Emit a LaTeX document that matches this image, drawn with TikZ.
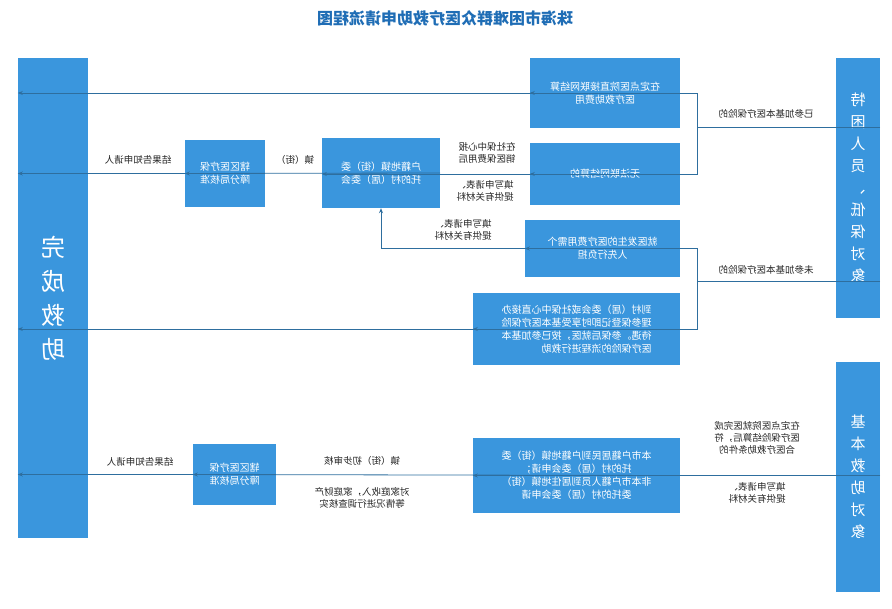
\documentclass[tikz,border=0pt]{standalone}
\usepackage{fontspec}
\setmainfont{Noto Sans CJK SC}
\usetikzlibrary{arrows.meta}
\definecolor{bx}{HTML}{3A96DD}
\definecolor{ln}{HTML}{2E6E9E}
\definecolor{tt}{HTML}{1F6DB5}
\begin{document}
\begin{tikzpicture}[x=1pt,y=-1pt,
  every node/.append style={xscale=-1},
  box/.style={fill=bx,text=white,inner sep=2pt,font=\fontsize{10}{13}\selectfont,align=center},
  lab/.style={text=black!85,font=\fontsize{9.5}{12}\selectfont,align=center,inner sep=1pt},
  ar/.style={draw=ln,line width=0.8pt,-{Stealth[length=5pt,width=4pt]}},
  pl/.style={draw=ln,line width=0.8pt}]
\useasboundingbox (0,0) rectangle (892,609);
\node[text=tt,font=\fontsize{16}{18}\selectfont\bfseries] (title) at (445,18) {珠海市困难群众医疗救助申请流程图};
\node[fill=bx,minimum width=70pt,minimum height=480pt,text=white,font=\fontsize{24}{34}\selectfont,align=center] (done) at (53,298) {完\\成\\救\\助};
\node[fill=bx,minimum width=44pt,minimum height=260pt,text=white,font=\fontsize{15}{22}\selectfont,align=center] (tk) at (858,188) {特\\困\\人\\员\\、\\低\\保\\对\\象};
\node[fill=bx,minimum width=44pt,minimum height=230pt,text=white,font=\fontsize{15}{22}\selectfont,align=center] (jb) at (858,477) {基\\本\\救\\助\\对\\象};
\node[box,minimum width=150pt,minimum height=70pt] (A) at (605,93) {在定点医院直接联网结算\\医疗救助费用};
\node[box,minimum width=150pt,minimum height=62pt] (B) at (605,174) {无法联网结算的};
\node[box,minimum width=118pt,minimum height=70pt] (C) at (381,173) {户籍地镇（街）委\\托的村（居）委会};
\node[box,minimum width=155pt,minimum height=57pt] (D) at (602.5,248.5) {就医发生的医疗费用需个\\人先行负担};
\node[box,minimum width=207pt,minimum height=72pt,align=left] (E) at (576.5,329) {到村（居）委会或社保中心直接办\\理参保登记即时享受基本医疗保险\\待遇。参保后就医，按已参加基本\\医疗保险的流程进行救助};
\node[box,minimum width=80pt,minimum height=67pt] (F) at (225,173.5) {辖区医疗保\\障分局核准};
\node[box,minimum width=207pt,minimum height=75pt] (G) at (576.5,475.5) {本市户籍居民到户籍地镇（街）委\\托的村（居）委会申请；\\非本市户籍人员到居住地镇（街）\\委托的村（居）委会申请};
\node[box,minimum width=83pt,minimum height=61pt] (H) at (234.5,474.5) {辖区医疗保\\障分局核准};
\coordinate (t1) at (697,127); \coordinate (t2) at (697,281);
\draw[pl] (tk.west |- t1) -- (t1);
\draw[ar] (t1) |- (A.east);
\draw[ar] (t1) |- (B.east);
\node[lab] (l1) at (766,114) {已参加基本医疗保险的};
\draw[pl] (tk.west |- t2) -- (t2);
\draw[ar] (t2) |- (D.east);
\draw[ar] (t2) |- (E.east);
\node[lab] (l2) at (766,270) {未参加基本医疗保险的};
\draw[ar] (A.west) -- (done.east |- A.west);
\draw[ar] (B.west) -- (C.east |- B.west);
\node[lab] (l3) at (487,153) {在社保中心报\\销医保费用后};
\node[lab] (l4) at (485,191) {填写申请表、\\提供有关材料};
\draw[ar] (D.west) -| (C.south);
\node[lab] (l5) at (463,230) {填写申请表、\\提供有关材料};
\draw[ar] (C.west) -- (F.east);
\node[lab] (l6) at (295,160) {镇（街）};
\draw[ar] (F.west) -- (done.east |- F.west);
\node[lab] (l7) at (138,160) {结果告知申请人};
\draw[ar] (E.west) -- (done.east |- E.west);
\draw[ar] (jb.west |- G.east) -- (G.east);
\node[lab] (l8) at (757,438) {在定点医院就医完成\\医疗保险结算后，符\\合医疗救助条件的};
\node[lab] (l9) at (757,493) {填写申请表、\\提供有关材料};
\draw[ar] (G.west) -- (H.east);
\node[lab] (l10) at (362,461) {镇（街）初步审核};
\node[lab] (l11) at (362,498) {对家庭收入，家庭财产\\等情况进行调查核实};
\draw[ar] (H.west) -- (done.east |- H.west);
\node[lab] (l12) at (140,462) {结果告知申请人};
\end{tikzpicture}
\end{document}
